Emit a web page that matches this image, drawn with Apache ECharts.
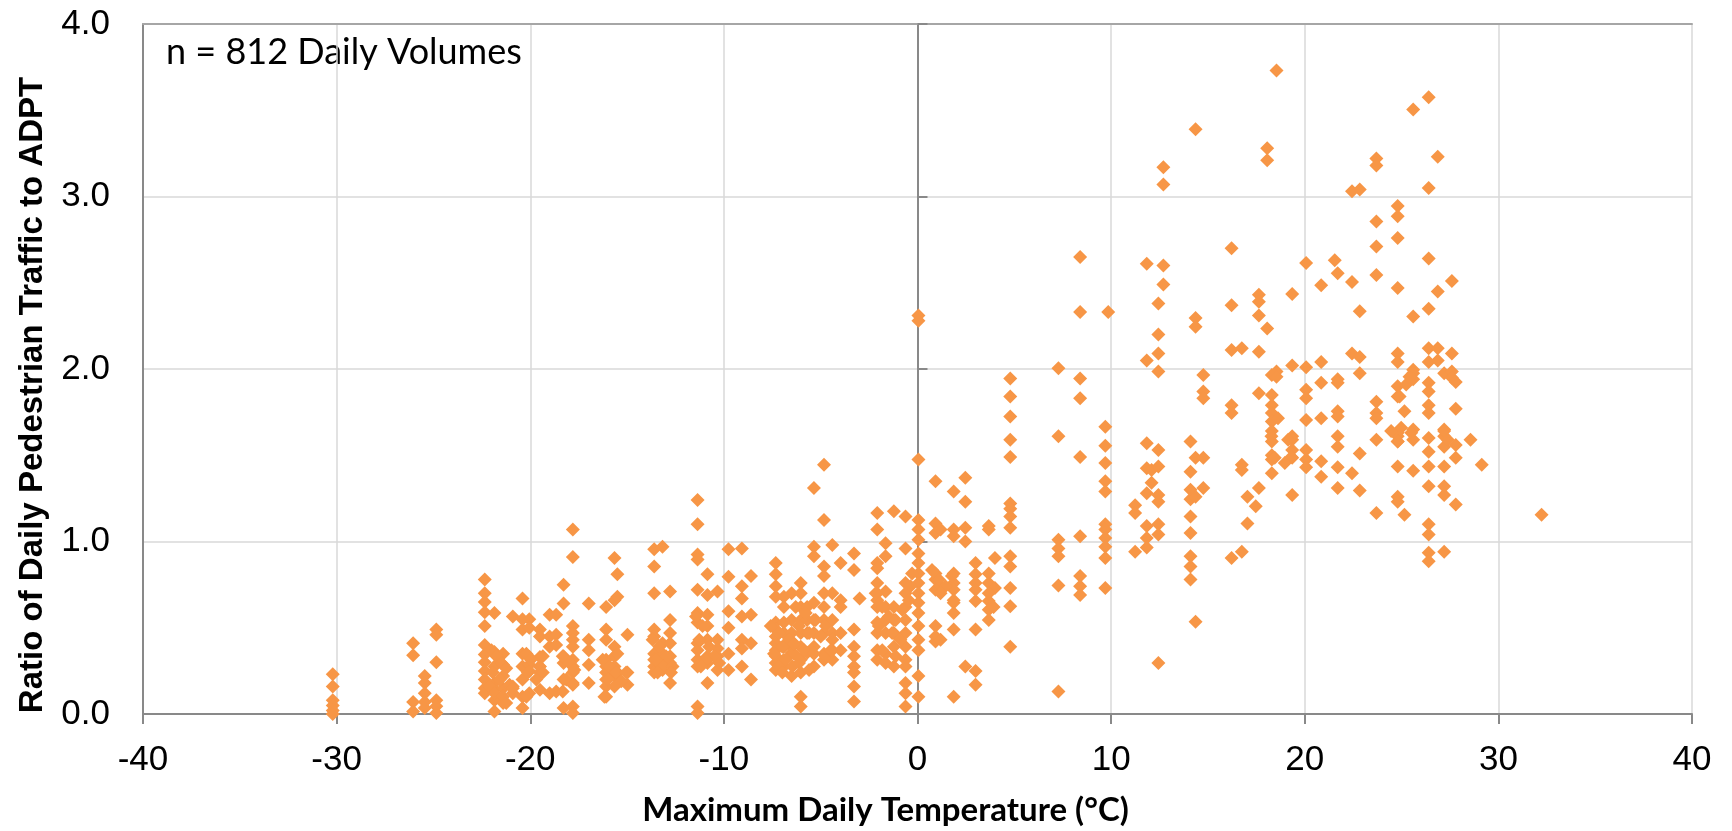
<!DOCTYPE html>
<html>
<head>
<meta charset="utf-8">
<script src="https://cdn.jsdelivr.net/npm/echarts@6/dist/echarts.min.js"></script>
<style>
  html, body { margin: 0; padding: 0; background: #fff; }
  #chart { width: 1732px; height: 831px; }
</style>
</head>
<body>
<div id="chart"></div>
<script>
const tempCols = [
  -30.2, -26.05, -25.45, -24.85, -22.35, -21.85, -21.4, -20.9, -20.4, -20.05,
  -19.5, -19.0, -18.66, -18.28, -17.8, -16.98, -16.08, -15.65, -15.5, -14.98,
  -13.6, -13.17, -12.78, -11.36, -10.85, -10.33, -9.76, -9.07, -8.6, -7.32,
  -6.9, -6.5, -6.03, -5.7, -5.35, -4.83, -4.4, -3.97, -3.28, -2.99,
  -2.08, -1.65, -1.22, -0.62, 0.05, 0.93, 1.19, 1.87, 2.47, 3.0,
  3.68, 4.0, 4.79, 7.28, 8.4, 9.7, 9.85, 11.24, 11.84, 12.09,
  12.44, 12.7, 14.1, 14.36, 14.76, 16.22, 16.75, 17.04, 17.47, 17.63,
  18.06, 18.3, 18.54, 19.35, 20.07, 20.85, 21.55, 21.7, 22.44, 22.84,
  23.7, 24.8, 25.15, 25.6, 26.4, 26.87, 27.2, 27.6, 27.8, 28.56,
  29.14, 32.23
];

const ratioCols = [
  [0.23, 0.16, 0.08, 0.05, 0.02, 0.0],
  [0.41, 0.34, 0.07, 0.015],
  [0.22, 0.18, 0.12, 0.07, 0.035],
  [0.49, 0.46, 0.30, 0.08, 0.045, 0.006],
  [0.78, 0.70, 0.65, 0.59, 0.51, 0.40, 0.345, 0.30, 0.25, 0.20, 0.15, 0.12],
  [0.585, 0.36, 0.275, 0.18, 0.14, 0.08, 0.015],
  [0.35, 0.285, 0.22, 0.15, 0.064],
  [0.565, 0.16, 0.12],
  [0.67, 0.55, 0.49, 0.35, 0.275, 0.20, 0.10, 0.035],
  [0.55, 0.50, 0.33, 0.285, 0.25, 0.12],
  [0.49, 0.45, 0.33, 0.275, 0.24, 0.14],
  [0.575, 0.45, 0.39, 0.12],
  [0.575, 0.46, 0.40, 0.13],
  [0.75, 0.64, 0.335, 0.295, 0.20, 0.035],
  [1.07, 0.91, 0.51, 0.47, 0.43, 0.39, 0.315, 0.275, 0.24, 0.18, 0.044, 0.006],
  [0.64, 0.43, 0.37, 0.285, 0.18],
  [0.62, 0.49, 0.43, 0.315, 0.275, 0.24, 0.20, 0.16, 0.10],
  [0.905, 0.66, 0.39, 0.335, 0.275, 0.22],
  [0.81, 0.68, 0.35, 0.24],
  [0.46, 0.24, 0.17],
  [0.955, 0.855, 0.70, 0.49, 0.45, 0.35, 0.315, 0.275, 0.24],
  [0.97, 0.41, 0.35, 0.295, 0.255],
  [0.71, 0.545, 0.47, 0.41, 0.335, 0.295, 0.18],
  [1.24, 1.10, 0.925, 0.895, 0.72, 0.585, 0.53, 0.41, 0.37, 0.315, 0.275, 0.044, 0.006],
  [0.81, 0.69, 0.575, 0.51, 0.43, 0.335, 0.295, 0.18],
  [0.71, 0.43, 0.38, 0.335, 0.255],
  [0.955, 0.795, 0.595, 0.50, 0.35, 0.255],
  [0.96, 0.74, 0.67, 0.565, 0.43, 0.38, 0.275],
  [0.80, 0.575, 0.41, 0.20],
  [0.875, 0.81, 0.74, 0.68, 0.53, 0.49, 0.45, 0.41, 0.37, 0.335, 0.295, 0.255],
  [0.68, 0.62, 0.53, 0.47, 0.39, 0.315, 0.275],
  [0.70, 0.545, 0.47, 0.39, 0.355, 0.22],
  [0.76, 0.70, 0.62, 0.545, 0.47, 0.39, 0.315, 0.24, 0.10, 0.044],
  [0.62, 0.545, 0.47, 0.355],
  [1.31, 0.97, 0.915, 0.645, 0.545, 0.47, 0.39, 0.275],
  [1.445, 1.125, 0.855, 0.80, 0.70, 0.62, 0.545, 0.47, 0.35, 0.315],
  [0.98, 0.70, 0.545, 0.47, 0.37, 0.315],
  [0.875, 0.66, 0.62, 0.47, 0.37],
  [0.93, 0.835, 0.49, 0.39, 0.335, 0.275, 0.24, 0.16, 0.073],
  [0.67],
  [1.165, 1.07, 0.875, 0.845, 0.76, 0.70, 0.66, 0.62, 0.53, 0.47, 0.37, 0.315],
  [0.99, 0.915, 0.71, 0.62, 0.545, 0.47, 0.35, 0.295],
  [1.175, 0.62, 0.545, 0.47, 0.39, 0.275],
  [1.145, 0.96, 0.76, 0.70, 0.62, 0.545, 0.47, 0.39, 0.315, 0.18, 0.12, 0.044],
  [2.31, 2.28, 1.475, 1.125, 1.07, 1.01, 0.93, 0.875, 0.815, 0.76, 0.70, 0.645, 0.585, 0.51, 0.43, 0.37, 0.22, 0.10],
  [1.35, 1.105, 1.05, 0.815, 0.78, 0.72, 0.51, 0.45, 0.42],
  [1.07, 0.74, 0.43],
  [1.29, 1.07, 1.03, 0.815, 0.76, 0.72, 0.645, 0.585, 0.49, 0.10],
  [1.37, 1.23, 1.08, 1.00, 0.275],
  [0.875, 0.81, 0.76, 0.72, 0.655, 0.49, 0.25, 0.17],
  [1.09, 1.07, 0.815, 0.76, 0.655, 0.605, 0.545],
  [0.905, 0.73],
  [1.945, 1.84, 1.725, 1.59, 1.49, 1.22, 1.19, 1.145, 1.08, 0.915, 0.855, 0.73, 0.625, 0.39],
  [2.005, 1.61, 1.01, 0.96, 0.915, 0.745, 0.13],
  [2.65, 2.33, 1.945, 1.83, 1.49, 1.03, 0.80, 0.74, 0.69],
  [1.665, 1.555, 1.455, 1.35, 1.29, 1.10, 1.07, 1.02, 0.97, 0.905, 0.73],
  [2.33],
  [1.21, 1.165, 0.94],
  [2.61, 2.05, 1.57, 1.425, 1.28, 1.09, 1.02, 0.965],
  [1.415, 1.34],
  [2.38, 2.20, 2.09, 1.985, 1.53, 1.435, 1.27, 1.23, 1.10, 1.04, 0.295],
  [3.17, 3.07, 2.6, 2.49],
  [1.58, 1.405, 1.30, 1.245, 1.145, 1.05, 0.915, 0.855, 0.78],
  [3.39, 2.295, 2.245, 1.485, 1.26, 0.535],
  [1.965, 1.87, 1.83, 1.485, 1.31],
  [2.70, 2.37, 2.11, 1.79, 1.745, 0.905],
  [2.12, 1.445, 1.415, 0.94],
  [1.26, 1.105],
  [1.205],
  [2.43, 2.39, 2.31, 2.10, 1.86, 1.31],
  [3.28, 3.21, 2.235],
  [1.965, 1.85, 1.79, 1.745, 1.695, 1.64, 1.58, 1.50, 1.475, 1.395],
  [3.73, 1.985, 1.955],
  [2.435, 2.02, 1.61, 1.59, 1.53, 1.485, 1.27],
  [2.615, 2.01, 1.88, 1.83, 1.705, 1.53, 1.475, 1.43],
  [2.485, 2.04, 1.92, 1.715, 1.465, 1.375],
  [2.63],
  [2.555, 1.94, 1.92, 1.755, 1.725, 1.61, 1.55, 1.43, 1.31],
  [3.03, 2.505, 2.09, 1.395],
  [3.04, 2.335, 2.07, 1.975, 1.51, 1.295],
  [3.22, 3.18, 2.855, 2.71, 2.545, 1.81, 1.745, 1.715, 1.59, 1.165],
  [2.945, 2.885, 2.76, 2.47, 2.09, 2.04, 1.90, 1.84, 1.63, 1.61, 1.58, 1.435, 1.26, 1.23],
  [1.755, 1.155],
  [3.505, 2.305, 1.995, 1.975, 1.94, 1.65, 1.59, 1.41],
  [3.575, 3.05, 2.64, 2.35, 2.12, 2.04, 1.92, 1.87, 1.79, 1.745, 1.60, 1.52, 1.435, 1.32, 1.10, 1.04, 0.935, 0.885],
  [3.23, 2.45, 2.12, 2.05],
  [1.975, 1.65, 1.61, 1.55, 1.435, 1.32, 1.27, 0.94],
  [2.51, 2.09, 1.985, 1.95],
  [1.925, 1.77, 1.56, 1.485, 1.215],
  [1.59],
  [1.445],
  [1.155]
];

// Points read inside the dense, overlapping clusters: [temperature, ratio]
const clusterPoints = [
  [-22.0, 0.37], [-21.75, 0.335], [-21.5, 0.295], [-21.24, 0.265], [-21.93, 0.24],
  [-21.58, 0.20], [-21.07, 0.17], [-22.1, 0.16], [-21.84, 0.12], [-21.41, 0.10],
  [-20.9, 0.15], [-21.24, 0.064],
  [-20.2, 0.35], [-19.97, 0.315], [-19.52, 0.275], [-19.35, 0.24], [-20.12, 0.24],
  [-19.69, 0.20], [-20.2, 0.10], [-19.35, 0.335],
  [-18.32, 0.335], [-17.97, 0.295], [-17.72, 0.255], [-18.14, 0.20], [-17.8, 0.17], [-18.32, 0.13],
  [-16.26, 0.315], [-15.91, 0.275], [-15.57, 0.24], [-16.0, 0.20], [-15.65, 0.16],
  [-15.3, 0.19], [-16.17, 0.10], [-15.05, 0.24],
  [-13.68, 0.43], [-13.33, 0.39], [-12.99, 0.335], [-13.5, 0.315], [-13.16, 0.275],
  [-12.65, 0.275], [-12.73, 0.24], [-13.42, 0.24],
  [-11.44, 0.565], [-11.1, 0.51], [-11.27, 0.43], [-10.76, 0.39], [-10.5, 0.335],
  [-10.93, 0.315], [-10.24, 0.295], [-11.19, 0.275],
  [-7.58, 0.51], [-7.15, 0.47], [-6.63, 0.43], [-6.98, 0.39], [-7.41, 0.35],
  [-6.38, 0.35], [-6.8, 0.315], [-7.15, 0.275], [-6.46, 0.275], [-6.98, 0.24],
  [-6.29, 0.62], [-5.77, 0.585], [-5.26, 0.545], [-4.74, 0.51], [-6.12, 0.51],
  [-5.6, 0.47], [-5.0, 0.45], [-4.4, 0.43], [-6.38, 0.41], [-5.86, 0.37],
  [-5.35, 0.35], [-4.74, 0.335], [-6.12, 0.295], [-5.6, 0.255], [-4.48, 0.37],
  [-2.16, 0.70], [-1.82, 0.62], [-1.48, 0.565], [-1.13, 0.545], [-0.79, 0.605],
  [-0.45, 0.66], [-2.0, 0.51], [-1.31, 0.47], [-0.88, 0.43], [-1.82, 0.37],
  [-1.13, 0.335], [-0.62, 0.275], [-0.36, 0.74], [-0.28, 0.815],
  [0.75, 0.835], [1.1, 0.78], [1.44, 0.74], [1.78, 0.80], [1.87, 0.66], [1.19, 0.70],
  [3.68, 0.70], [3.93, 0.62],
  [18.28, 1.61], [19.14, 1.59], [19.31, 1.49], [18.45, 1.485], [18.97, 1.455], [18.62, 1.715],
  [24.46, 1.64], [24.98, 1.66], [25.5, 1.63], [24.8, 1.58], [25.24, 1.91],
  [25.41, 1.955], [24.9, 1.84], [27.2, 1.64], [27.39, 1.59]
];

const xTicks = [-40, 40, 10];   // min, max, step
const yTicks = [0, 4, 1];
const noteText = 'n = 812 Daily Volumes';

const points = [];
tempCols.forEach((t, i) => {
  ratioCols[i].forEach(r => points.push([t, r]));
});
clusterPoints.forEach(p => points.push(p));

const chart = echarts.init(document.getElementById('chart'), null, { renderer: 'canvas' });

const labelFont = 'Liberation Sans, Arial, sans-serif';
const titleFont = 'Lato, sans-serif';
const axisGrey = '#898989';
const gridGrey = '#d9d9d9';

chart.setOption({
  animation: false,
  backgroundColor: '#fff',
  grid: { left: 143, right: 40, top: 24, bottom: 117, outerBoundsMode: 'none', containLabel: false },
  xAxis: [{
    type: 'value',
    min: xTicks[0], max: xTicks[1], interval: xTicks[2],
    axisLine: { onZero: false, lineStyle: { color: axisGrey, width: 2 } },
    axisTick: { show: true, length: 10, lineStyle: { color: axisGrey, width: 2 } },
    axisLabel: { fontFamily: labelFont, fontSize: 35, color: '#000', margin: 29 },
    splitLine: { show: true, lineStyle: { color: gridGrey, width: 1.5 } },
    name: 'Maximum Daily Temperature (°C)',
    nameLocation: 'middle',
    nameGap: 80,
    nameTextStyle: { fontFamily: titleFont, fontWeight: 'bold', fontSize: 33, color: '#000', padding: [0, 64, 0, 0] }
  }, {
    // top frame line
    type: 'value',
    position: 'top',
    min: xTicks[0], max: xTicks[1], interval: xTicks[2],
    axisLine: { show: true, onZero: false, lineStyle: { color: '#a6a6a6', width: 2 } },
    axisTick: { show: false },
    axisLabel: { show: false },
    splitLine: { show: false }
  }],
  yAxis: [{
    type: 'value',
    min: yTicks[0], max: yTicks[1], interval: yTicks[2],
    axisLine: { show: true, onZero: false, lineStyle: { color: axisGrey, width: 2 } },
    axisTick: { show: false },
    axisLabel: { fontFamily: labelFont, fontSize: 35, color: '#000', margin: 33, formatter: v => v.toFixed(1) },
    splitLine: { show: true, lineStyle: { color: gridGrey, width: 1.5 } },
    name: 'Ratio of Daily Pedestrian Traffic to ADPT',
    nameLocation: 'middle',
    nameGap: 94,
    nameTextStyle: { fontFamily: labelFont, fontWeight: 'bold', fontSize: 33, color: '#000', padding: [0, 52, 0, 0] }
  }, {
    // axis line drawn through 0 °C with its own ticks
    type: 'value',
    min: yTicks[0], max: yTicks[1], interval: yTicks[2],
    axisLine: { show: true, onZero: true, onZeroAxisIndex: 0, lineStyle: { color: axisGrey, width: 2 } },
    axisTick: { show: true, length: 10, lineStyle: { color: axisGrey, width: 2 } },
    axisLabel: { show: false },
    splitLine: { show: false }
  }],
  graphic: [{
    type: 'text',
    left: 166, top: 34,
    style: { text: noteText, font: '36px Lato, sans-serif', fill: '#000' }
  }],
  series: [{
    type: 'scatter',
    data: points,
    symbol: 'diamond',
    symbolSize: 14,
    itemStyle: { color: '#F79646', opacity: 1 }
  }]
});
</script>
</body>
</html>
